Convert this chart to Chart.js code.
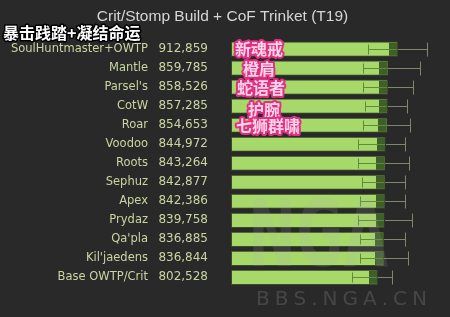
<!DOCTYPE html>
<html><head><meta charset="utf-8">
<script src="https://cdn.jsdelivr.net/npm/chart.js@4/dist/chart.umd.min.js"></script>
<style>html,body{margin:0;padding:0;background:#292929;} #wrap{width:450px;height:317px;}</style>
</head><body><div id="wrap"><canvas id="c" width="450" height="317"></canvas></div>
<script>
const categories = ["SoulHuntmaster+OWTP","Mantle","Parsel's","CotW","Roar","Voodoo","Roots","Sephuz","Apex","Prydaz","Qa'pla","Kil'jaedens","Base OWTP/Crit"];
const dps = [912859,859785,858526,857285,854653,844972,843264,842877,842386,839758,836885,836844,802528];
const valueLabels = ["912,859","859,785","858,526","857,285","854,653","844,972","843,264","842,877","842,386","839,758","836,885","836,844","802,528"];
const errLow = [749000,721500,721500,732400,721500,694200,694200,716000,705100,694200,705100,705100,661400];
const errHigh = [1071300,1033100,994800,962000,978400,951100,973000,951100,951100,989300,951100,967500,880000];
const notes = ["新魂戒","橙肩","蛇语者","护腕","七狮群啸","","","","","","","",""];
const titleText = "Crit/Stomp Build + CoF Trinket (T19)";
const subText = "暴击践踏+凝结命运";

const bgPlugin = {
  id:'bg',
  beforeDraw(chart){
    const c = chart.ctx; c.save(); c.fillStyle='#292929'; c.fillRect(0,0,chart.width,chart.height); c.restore();
  }
};

const overlay = {
  id:'overlay',
  afterDatasetsDraw(chart){
    const c = chart.ctx; const meta = chart.getDatasetMeta(0); const xs = chart.scales.x;
    c.save();
    meta.data.forEach((bar,i)=>{
      const p = bar.getProps(['x','y','base','height'], true);
      const x = Math.round(p.x), y = Math.round(p.y)+0.5, h = p.height;
      c.fillStyle = '#3f5f28';
      c.fillRect(x-9, p.y-h/2+1, 8, h-2);
      const xl = Math.round(xs.getPixelForValue(errLow[i]))+0.5;
      const xh = Math.round(xs.getPixelForValue(errHigh[i]))+0.5;
      c.lineWidth = 1;
      c.strokeStyle = '#5f8a3a';
      c.beginPath(); c.moveTo(xl,y); c.lineTo(x-1,y); c.moveTo(xl,y-5); c.lineTo(xl,y+5); c.stroke();
      c.strokeStyle = '#7d876a';
      c.beginPath(); c.moveTo(x,y); c.lineTo(xh,y); c.moveTo(xh,y-7); c.lineTo(xh,y+7); c.stroke();
    });
    // watermark
    c.globalAlpha = 0.14;
    c.fillStyle = '#b0b0b0';
    c.save();
    c.translate(248, 266);
    c.scale(0.72, 1.15);
    c.font = 'bold 80px "DejaVu Sans"';
    c.textBaseline = 'alphabetic';
    c.fillText('NGA', 0, 0);
    c.restore();
    c.globalAlpha = 0.3;
    c.fillStyle = '#8a8a8a';
    c.font = '20px "DejaVu Sans"';
    c.textBaseline = 'middle';
    const wm = 'BBS.NGA.CN';
    let wx = 256;
    for (const ch of wm) { c.fillText(ch, wx, 300); wx += c.measureText(ch).width + 5; }
    c.globalAlpha = 1;
    // notes
    const offs = [4,12,6,17,5];
    const yoffs = [0,1,1,4,1];
    c.font = 'bold 16px "Noto Sans CJK SC"';
    c.textBaseline = 'middle';
    c.lineJoin = 'round';
    notes.forEach((t,i)=>{
      if(!t) return;
      const p = meta.data[i];
      const tx = chart.chartArea.left + offs[i], ty = p.y + yoffs[i];
      c.lineWidth = 4; c.strokeStyle = '#e0307f'; c.strokeText(t, tx, ty);
      c.fillStyle = '#ffd3ea'; c.fillText(t, tx, ty);
    });
    // subtitle
    c.font = 'bold 16px "Noto Sans CJK SC"';
    c.textBaseline = 'middle';
    c.lineWidth = 3; c.strokeStyle = '#000';
    c.strokeText(subText, 3, 33);
    c.fillStyle = '#ffffff'; c.fillText(subText, 3, 33);
    c.restore();
  }
};

new Chart(document.getElementById('c'), {
  type:'bar',
  data:{labels:categories, datasets:[{data:dps, backgroundColor:'#a6d96a', borderColor:'#3c4a2c', borderWidth:1, borderSkipped:false, barPercentage:0.8, categoryPercentage:1}]},
  options:{
    indexAxis:'y', responsive:false, animation:false, devicePixelRatio:1,
    layout:{padding:{top:0,right:5,bottom:8.7,left:0}},
    plugins:{legend:{display:false}, tooltip:{enabled:false},
      title:{display:true, text:titleText, color:'#d6d6d6', font:{family:'Liberation Sans', size:15.5, weight:'normal'}, padding:{top:7,bottom:14.1}}},
    scales:{
      x:{display:false, min:0, max:1170000},
      y:{position:'left', weight:2, grid:{display:false, drawTicks:false}, border:{display:false},
         ticks:{color:'#c9d6a0', font:{family:'DejaVu Sans', size:11.5}, padding:2},
         afterFit(s){ s.width = 150; }},
      yv:{type:'category', labels:valueLabels, offset:true, position:'left', weight:1, grid:{display:false, drawTicks:false}, border:{display:false},
         ticks:{color:'#c9d6a0', font:{family:'DejaVu Sans', size:12}, padding:23},
         afterFit(s){ s.width = 81; }}
    }
  },
  plugins:[bgPlugin, overlay]
});
</script></body></html>
